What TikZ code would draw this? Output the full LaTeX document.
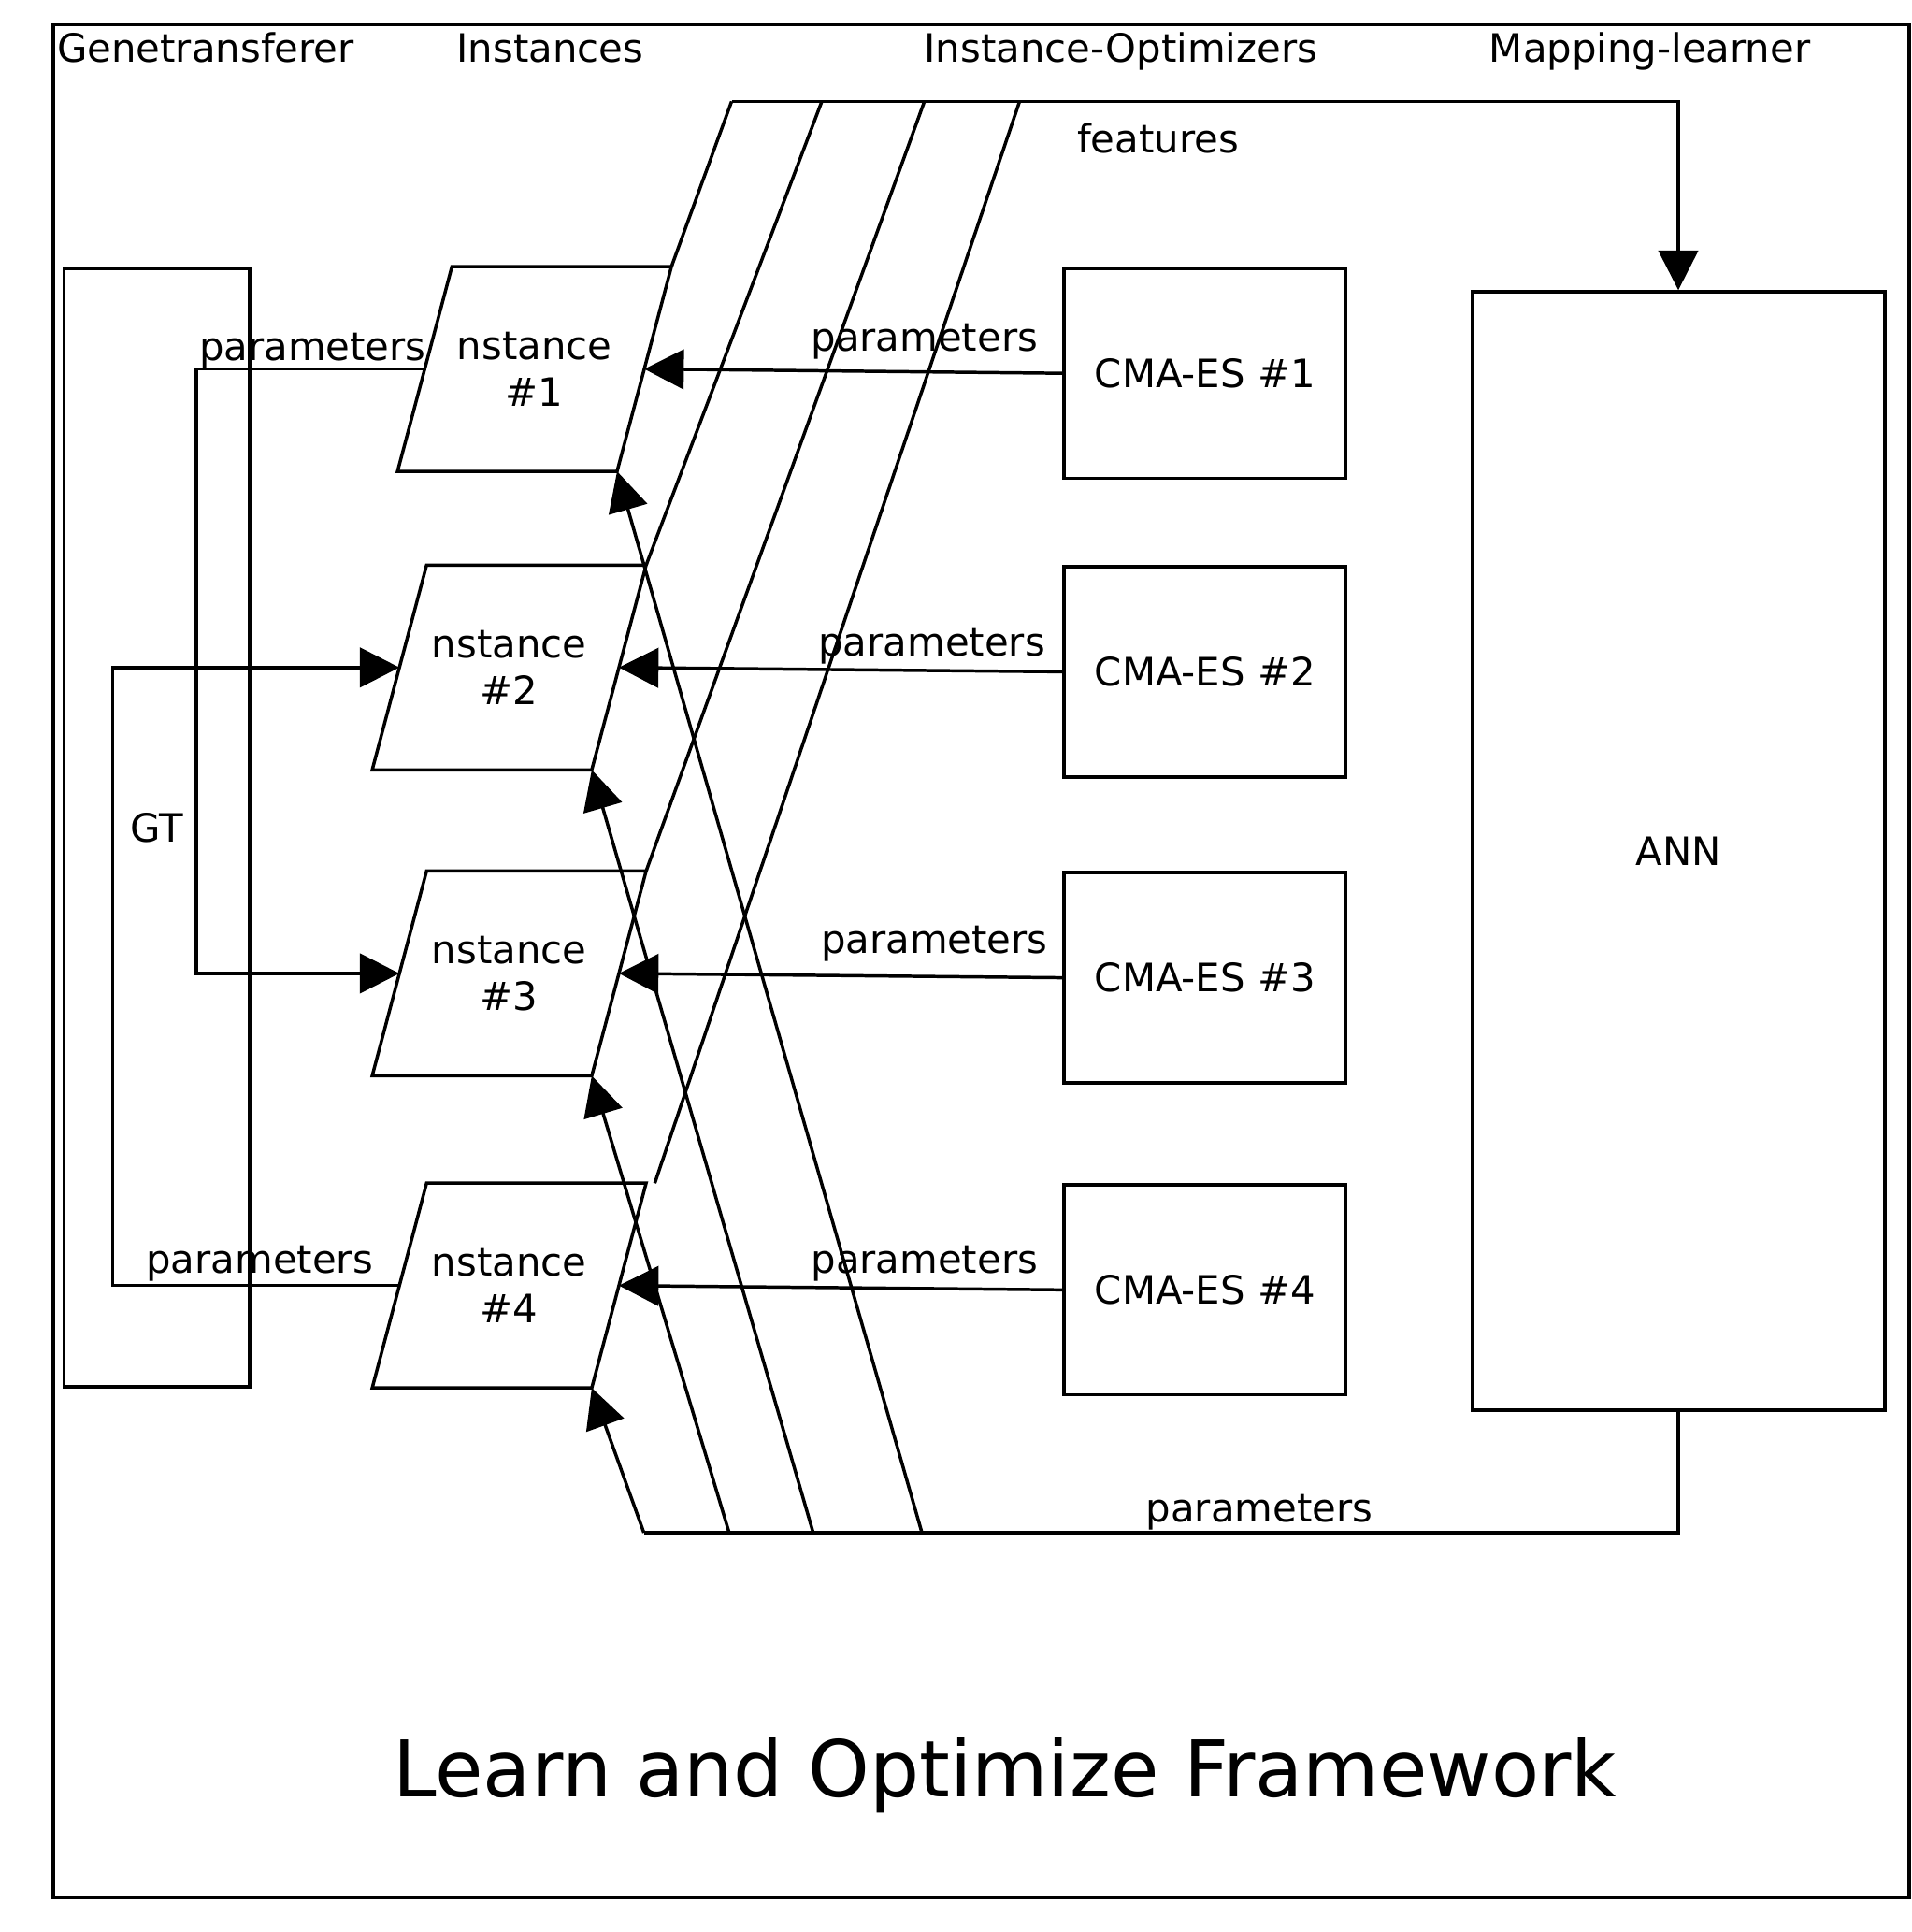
\documentclass[tikz,border=0pt]{standalone}
\usepackage{fontspec}
\setmainfont{DejaVu Sans}
\usetikzlibrary{arrows.meta}
\begin{document}
\begin{tikzpicture}[x=0.1mm,y=-0.1mm,font=\fontsize{9}{10.8}\selectfont,line width=0.75pt,>={Triangle[length=3.2mm,width=3.2mm]},
	box/.style={draw,rectangle,inner sep=0pt},
	inst/.style={rectangle,minimum width=17.5mm,minimum height=16.3mm,inner sep=0pt,align=center},
	lbl/.style={inner sep=0pt,anchor=base}]
	\useasboundingbox (0,0) rectangle (1547,1563);
	\draw (43,20) rectangle (1545,1535);
	% headers
	\node[lbl,anchor=base west] (hgt) at (45,50) {Genetransferer};
	\node[lbl] (hins) at (445,50) {Instances};
	\node[lbl] (hopt) at (907,50) {Instance-Optimizers};
	\node[lbl] (hmap) at (1335,50) {Mapping-learner};
	% blocks
	\node[box,minimum width=15mm,minimum height=90.5mm] (gt) at (127,669.5) {GT};
	\node[inst] (i1) at (432.5,298.5) {nstance\\\#1};
	\node[inst] (i2) at (412,540) {nstance\\\#2};
	\node[inst] (i3) at (412,787.5) {nstance\\\#3};
	\node[inst] (i4) at (412,1040) {nstance\\\#4};
	\foreach \k in {1,...,4}{
		\coordinate (i\k-br) at ([xshift=-2.2mm]i\k.south east);
		\coordinate (i\k-tr) at ([xshift=2.2mm]i\k.north east);
		\draw ([xshift=-2.2mm]i\k.south west) -- (i\k-br) -- (i\k-tr) -- ([xshift=2.2mm]i\k.north west) -- cycle;
	}
	\foreach \y [count=\k] in {302,543.5,791,1043.5}
		\node[box,minimum width=22.8mm,minimum height=17mm] (c\k) at (975,\y) {CMA-ES \#\k};
	\node[box,minimum width=33.4mm,minimum height=90.5mm] (ann) at (1358,688.5) {ANN};
	% optimizer parameters
	\foreach \k in {1,...,4}
		\draw[->] (c\k.west) -- (i\k.east);
	\node[lbl] (pc1) at (748,284) {parameters};
	\node[lbl] (pc2) at (754,531) {parameters};
	\node[lbl] (pc3) at (756,771) {parameters};
	\node[lbl] (pc4) at (748,1030) {parameters};
	% genetransferer
	\coordinate (ga) at (159,0);
	\coordinate (gb) at (91,0);
	\draw[->] (i1.west) -- (i1.west -| ga) |- (i3.west);
	\draw[->] (i4.west) -- (i4.west -| gb) |- (i2.west);
	\node[lbl] (pg1) at (253,292) {parameters};
	\node[lbl] (pg2) at (210,1030) {parameters};
	% features
	\foreach \k/\x in {1/592,2/665,3/748,4/825}
		\coordinate (f\k) at (\x,82);
	\coordinate (fe) at (1358,82);
	\draw (i1-tr) -- (f1);
	\draw (i2-tr) -- (f2);
	\draw (i3-tr) -- (f3);
	\draw ([xshift=0.7mm]i4-tr) -- (f4);
	\draw[->] (f1) -- (fe) -- (ann.north);
	\node[lbl] (pf) at (937,124) {features};
	% mapping parameters
	\foreach \k/\x in {0/521,1/590,2/658,3/746}
		\coordinate (b\k) at (\x,1240);
	\draw (ann.south) |- (b0);
	\draw[->] (b0) -- (i4-br);
	\draw[->] (b1) -- (i3-br);
	\draw[->] (b2) -- (i2-br);
	\draw[->] (b3) -- (i1-br);
	\node[lbl] (pa) at (1019,1231) {parameters};
	\node[lbl] (title) at (813,1454) {\fontsize{18}{21.6}\selectfont Learn and Optimize Framework};
\end{tikzpicture}
\end{document}
